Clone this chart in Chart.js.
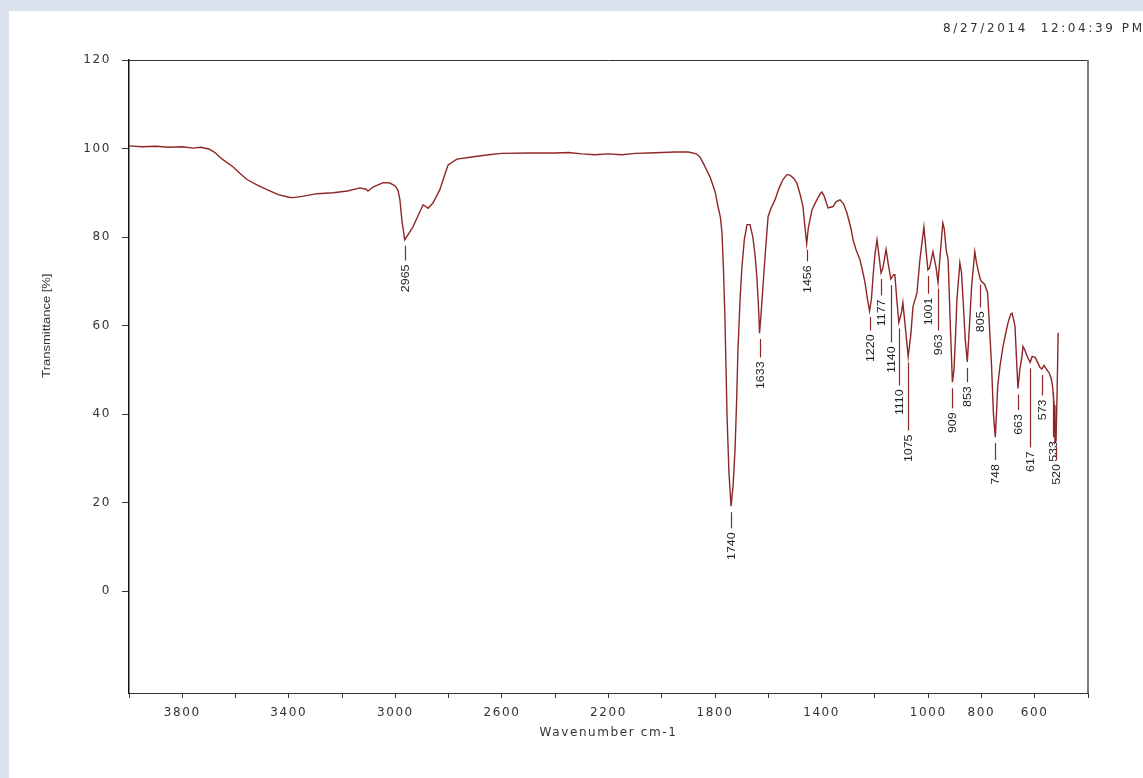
<!DOCTYPE html>
<html>
<head>
<meta charset="utf-8">
<script src="https://cdn.jsdelivr.net/npm/chart.js@4.4.1/dist/chart.umd.min.js"></script>
<style>
  html, body { margin: 0; padding: 0; background: #dce1f0; width: 1143px; height: 778px; overflow: hidden; }
  #wrap { position: absolute; left: 9px; top: 11px; width: 1134px; height: 767px; background: #fff; }
</style>
</head>
<body>
<div id="wrap"><canvas id="ir" width="1134" height="767"></canvas></div>
<script>
// IR spectrum (wavenumber cm-1 -> transmittance %)
const wavenumber = [
  4000, 3950, 3900, 3850, 3800, 3760, 3730, 3700, 3680, 3650,
  3610, 3580, 3557, 3520, 3482, 3440, 3400, 3384, 3350, 3294,
  3234, 3180, 3133, 3110, 3103, 3084, 3046, 3020, 3000, 2990,
  2983, 2975, 2965, 2950, 2934, 2915, 2896, 2877, 2859, 2833,
  2815, 2802, 2769, 2700, 2650, 2600, 2500, 2400, 2350, 2300,
  2250, 2200, 2150, 2100, 2050, 2000, 1950, 1900, 1870, 1857,
  1840, 1819, 1800, 1789, 1780, 1774, 1768, 1763, 1758, 1755,
  1748, 1740, 1732, 1725, 1719, 1714, 1706, 1699, 1690, 1680,
  1669, 1658, 1650, 1643, 1636, 1633, 1628, 1620, 1613, 1601,
  1590, 1575, 1560, 1545, 1530, 1519, 1505, 1493, 1480, 1470,
  1462, 1456, 1450, 1436, 1418, 1405, 1399, 1390, 1376, 1357,
  1345, 1331, 1318, 1305, 1290, 1282, 1270, 1256, 1245, 1237,
  1228, 1220, 1213, 1207, 1200, 1192, 1185, 1177, 1170, 1158,
  1150, 1140, 1130, 1125, 1118, 1110, 1100, 1095, 1088, 1075,
  1065, 1057, 1042, 1031, 1016, 1008, 1001, 995, 982, 970,
  963, 955, 945, 940, 932, 925, 918, 909, 903, 897,
  892, 881, 875, 869, 861, 853, 845, 837, 825, 818,
  805, 800, 788, 777, 770, 762, 755, 748, 742, 739,
  730, 719, 708, 700, 690, 685, 678, 674, 668, 663,
  656, 648, 644, 637, 628, 617, 610, 599, 590, 580,
  573, 565, 561, 552, 546, 538, 533, 527, 524, 520,
  516, 512
];
const transmittance = [
  100.6, 100.4, 100.5, 100.3, 100.4, 100.1, 100.3, 99.9, 99.2, 97.6,
  95.9, 94.2, 93.0, 91.8, 90.7, 89.6, 89.0, 88.9, 89.2, 89.8,
  90.0, 90.4, 91.1, 90.8, 90.4, 91.3, 92.3, 92.2, 91.5, 90.5,
  88.4, 83.5, 79.4, 80.8, 82.3, 84.8, 87.3, 86.5, 87.7, 90.7,
  94.0, 96.3, 97.6, 98.2, 98.6, 98.9, 99.0, 99.0, 99.1, 98.8,
  98.6, 98.8, 98.6, 98.9, 99.0, 99.1, 99.2, 99.2, 98.8, 98.1,
  96.2, 93.6, 90.3, 86.9, 84.5, 81.0, 72.0, 62.0, 48.0, 39.5,
  27.0, 19.2, 24.0, 32.0, 43.0, 54.6, 66.0, 73.3, 79.5, 82.8,
  82.8, 80.0, 76.0, 71.0, 63.0, 58.3, 62.0, 69.0, 75.0, 84.6,
  86.5, 88.4, 91.0, 93.0, 94.1, 94.0, 93.3, 92.2, 89.5, 86.9,
  82.0, 78.5, 82.0, 86.2, 88.4, 89.8, 90.2, 89.2, 86.6, 86.9,
  88.0, 88.4, 87.5, 85.5, 82.0, 79.4, 77.0, 74.9, 72.0, 69.7,
  66.0, 63.3, 66.0, 71.0, 76.0, 79.4, 76.0, 71.9, 73.0, 77.2,
  74.0, 70.5, 71.5, 71.5, 66.0, 60.7, 63.0, 65.2, 61.0, 53.0,
  58.0, 64.3, 67.4, 74.9, 82.3, 77.0, 72.6, 73.0, 76.7, 73.0,
  69.7, 76.0, 83.2, 82.0, 77.0, 74.9, 62.0, 47.2, 50.0, 58.0,
  65.9, 74.2, 72.0, 65.9, 57.0, 51.8, 60.0, 68.8, 76.7, 74.0,
  70.6, 70.0, 69.3, 67.5, 60.0, 50.8, 40.0, 34.8, 42.0, 46.3,
  51.0, 55.3, 58.5, 60.7, 62.6, 62.8, 61.0, 59.8, 52.0, 45.8,
  50.0, 53.0, 55.3, 54.5, 53.0, 51.7, 53.0, 52.9, 51.8, 50.5,
  50.2, 51.0, 50.6, 49.8, 49.4, 48.0, 46.3, 42.0, 33.6, 34.0,
  45.0, 58.4
];

// picked peaks and the transmittance level where each label starts
const peakWn      = [2965, 1740, 1633, 1456, 1220, 1177, 1140, 1110, 1075, 1001, 963, 909, 853, 805, 748, 663, 617, 573, 533, 520];
const peakLabelAt = [73.8, 13.3, 51.9, 73.6, 58.0, 65.9, 55.3, 45.6, 35.4, 66.3, 58.0, 40.4, 46.3, 63.2, 28.7, 40.0, 31.6, 43.3, 33.9, 28.7];

const xTicks  = [4000, 3800, 3600, 3400, 3200, 3000, 2800, 2600, 2400, 2200, 2000, 1800, 1600, 1400, 1200, 1000, 800, 600, 400];
const xLabels = [3800, 3400, 3000, 2600, 2200, 1800, 1400, 1000, 800, 600];
const yTicks  = [0, 20, 40, 60, 80, 100, 120];
const stamp = "8/27/2014  12:04:39 PM";

function valueAt(w) {
  for (let i = 0; i < wavenumber.length - 1; i++) {
    const a = wavenumber[i], b = wavenumber[i + 1];
    if (w <= a && w >= b) return transmittance[i] + (transmittance[i + 1] - transmittance[i]) * (a - w) / (a - b);
  }
  return transmittance[transmittance.length - 1];
}

const lineColor = "#8e2626";
const axisFont = { family: "'DejaVu Sans', Verdana, sans-serif", size: 12 };

const irExtras = {
  id: "irExtras",
  beforeDraw(chart) {
    chart.ctx.letterSpacing = "1.6px";
  },
  afterDatasetsDraw(chart) {
    const { ctx, chartArea: a, scales: { x, y } } = chart;
    ctx.save();
    // rest of the frame
    ctx.strokeStyle = "#333";
    ctx.lineWidth = 1;
    ctx.beginPath(); ctx.moveTo(a.left, a.top + 0.5); ctx.lineTo(a.right, a.top + 0.5); ctx.stroke();
    ctx.strokeStyle = "#7a7a7a";
    ctx.lineWidth = 2;
    ctx.beginPath(); ctx.moveTo(a.right, a.top); ctx.lineTo(a.right, a.bottom); ctx.stroke();

    // peak markers
    ctx.letterSpacing = "0px";
    peakWn.forEach((w, i) => {
      const px = Math.round(x.getPixelForValue(w)) + 0.5;
      const py = y.getPixelForValue(valueAt(w));
      const ly = y.getPixelForValue(peakLabelAt[i]);
      ctx.strokeStyle = lineColor;
      ctx.lineWidth = 1.2;
      ctx.beginPath(); ctx.moveTo(px, py + 6); ctx.lineTo(px, ly - 4); ctx.stroke();
      ctx.save();
      ctx.translate(px, ly);
      ctx.rotate(-Math.PI / 2);
      ctx.scale(1.08, 1);
      ctx.font = "11.5px 'Liberation Sans', Arial, sans-serif";
      ctx.fillStyle = "#1e1e1e";
      ctx.textAlign = "right";
      ctx.textBaseline = "middle";
      ctx.fillText(String(w), 0, 0);
      ctx.restore();
    });

    // y title, centred on the 0..120 span
    const cy = (y.getPixelForValue(0) + y.getPixelForValue(120)) / 2;
    ctx.save();
    ctx.translate(38, cy);
    ctx.rotate(-Math.PI / 2);
    ctx.scale(1.18, 1);
    ctx.font = "11px 'Liberation Sans', Arial, sans-serif";
    ctx.fillStyle = "#333";
    ctx.textAlign = "center";
    ctx.textBaseline = "middle";
    ctx.fillText("Transmittance [%]", 0, 0);
    ctx.restore();

    // time stamp
    ctx.letterSpacing = "2.6px";
    ctx.font = "12px 'DejaVu Sans', Verdana, sans-serif";
    ctx.fillStyle = "#333";
    ctx.textAlign = "left";
    ctx.textBaseline = "middle";
    ctx.fillText(stamp, 934, 18);
    ctx.restore();
  }
};

new Chart(document.getElementById("ir"), {
  type: "line",
  data: {
    datasets: [{
      data: wavenumber.map((w, i) => ({ x: w, y: transmittance[i] })),
      borderColor: lineColor,
      borderWidth: 1.4,
      pointRadius: 0,
      tension: 0,
      fill: false
    }]
  },
  options: {
    responsive: false,
    animation: false,
    devicePixelRatio: 1,
    layout: { padding: { left: 0, top: 49, right: 55, bottom: 0 } },
    plugins: { legend: { display: false }, tooltip: { enabled: false } },
    scales: {
      x: {
        type: "linear",
        reverse: true,
        min: 400,
        max: 4000,
        afterBuildTicks: (ax) => { ax.ticks = xTicks.map((v) => ({ value: v })); },
        afterFit: (ax) => { ax.height = 85; },
        grid: { drawOnChartArea: false, tickLength: 5, color: "#333" },
        border: { color: "#333", width: 1 },
        ticks: {
          autoSkip: false, maxRotation: 0, padding: 8, color: "#333", font: axisFont,
          callback: (v) => (xLabels.includes(v) ? String(v) : "")
        },
        title: {
          display: true, text: "Wavenumber cm-1", color: "#333",
          font: { family: axisFont.family, size: 12 },
          padding: { top: 0, bottom: 38 }
        }
      },
      y: {
        min: -23,
        max: 120,
        afterBuildTicks: (ax) => { ax.ticks = yTicks.map((v) => ({ value: v })); },
        afterFit: (ax) => { ax.width = 120; },
        grid: { drawOnChartArea: false, tickLength: 7, color: "#333" },
        border: { color: "#111", width: 1.5 },
        ticks: { padding: 11, color: "#333", font: axisFont }
      }
    }
  },
  plugins: [irExtras]
});
</script>
</body>
</html>
